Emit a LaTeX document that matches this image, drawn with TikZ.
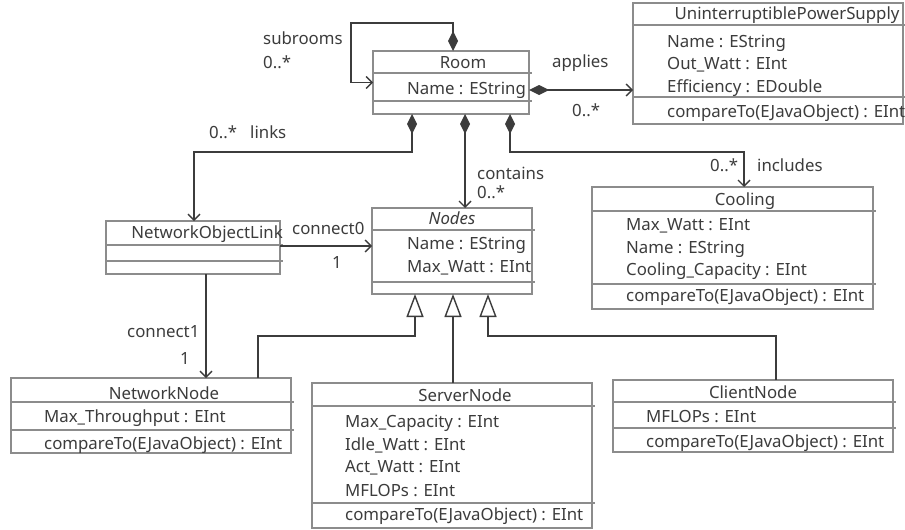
\documentclass[tikz,border=0pt]{standalone}
\usepackage{fontspec}
\setmainfont{Noto Sans}
\usetikzlibrary{arrows.meta}
\definecolor{ink}{HTML}{3C3C3C}
\definecolor{frame}{HTML}{8C8C8C}
\tikzset{
  cls/.style={draw=frame, line width=1.2pt, anchor=north west, inner sep=0pt, outer sep=0pt, fill=white},
  sep/.style={draw=frame, line width=1.2pt},
  txt/.style={text=ink, inner sep=0pt, anchor=west, font=\fontsize{16.8}{20}\selectfont},
  ttl/.style={txt, anchor=center},
  link/.style={draw=ink, line width=1.4pt},
  comp/.style={link, {Diamond[length=20pt,width=10pt]}-{Straight Barb[length=6pt,width=12pt]}},
  nav/.style={link, -{Straight Barb[length=6pt,width=12pt]}},
  gen/.style={link, -{Triangle[open,length=23pt,width=17pt,fill=white]}},
}
% \umlclass{name}{left}{top}{width}{height}{separator 1}{separator 2}
\newcommand\umlclass[7]{%
  \node[cls, minimum width=#4pt, minimum height=#5pt] (#1) at (#2pt,-#3pt) {};
  \draw[sep] (#2pt,-#6pt) -- ++(#4pt+3pt,0pt);
  \draw[sep] (#2pt,-#7pt) -- ++(#4pt+3pt,0pt);
}
\begin{document}
\begin{tikzpicture}
\useasboundingbox[fill=white] (0pt,0pt) rectangle (905pt,-530pt);

% class boxes
\umlclass{room}{373}{51}{156}{63}{73}{101}
\umlclass{ups}{633}{3}{270}{121}{25}{97}
\umlclass{nol}{106}{221}{174}{53}{245}{261}
\umlclass{nodes}{372}{208}{160}{86}{230}{282}
\umlclass{cool}{592}{187}{281}{122}{211}{284}
\umlclass{nn}{11}{378}{280}{75}{402}{430}
\umlclass{sn}{312}{383}{280}{145}{406}{503}
\umlclass{cn}{613}{380}{280}{72}{402}{428}

% Room
\node[ttl] (roomT) at (463pt,-63pt) {Room};
\node[txt] (roomA) at (407pt,-90pt) {Name : EString};

% UninterruptiblePowerSupply
\node[ttl] (upsT) at (787pt,-15pt) {UninterruptiblePowerSupply};
\node[txt] (upsA1) at (667pt,-43pt) {Name : EString};
\node[txt] (upsA2) at (667pt,-65pt) {Out\_Watt : EInt};
\node[txt] (upsA3) at (667pt,-88pt) {Efficiency : EDouble};
\node[txt] (upsM) at (667pt,-113pt) {compareTo(EJavaObject) : EInt};

% NetworkObjectLink
\node[ttl] (nolT) at (207pt,-234pt) {NetworkObjectLink};

% Nodes (abstract)
\node[ttl] (nodesT) at (452pt,-218pt) {\itshape Nodes};
\node[txt] (nodesA1) at (407pt,-245pt) {Name : EString};
\node[txt] (nodesA2) at (407pt,-268pt) {Max\_Watt : EInt};

% Cooling
\node[ttl] (coolT) at (745pt,-201pt) {Cooling};
\node[txt] (coolA1) at (626pt,-226pt) {Max\_Watt : EInt};
\node[txt] (coolA2) at (626pt,-249pt) {Name : EString};
\node[txt] (coolA3) at (626pt,-271pt) {Cooling\_Capacity : EInt};
\node[txt] (coolM) at (626pt,-297pt) {compareTo(EJavaObject) : EInt};

% NetworkNode
\node[ttl] (nnT) at (164pt,-393pt) {NetworkNode};
\node[txt] (nnA) at (44pt,-418pt) {Max\_Throughput : EInt};
\node[txt] (nnM) at (44pt,-445pt) {compareTo(EJavaObject) : EInt};

% ServerNode
\node[ttl] (snT) at (465pt,-395pt) {ServerNode};
\node[txt] (snA1) at (345pt,-423pt) {Max\_Capacity : EInt};
\node[txt] (snA2) at (345pt,-445pt) {Idle\_Watt : EInt};
\node[txt] (snA3) at (345pt,-468pt) {Act\_Watt : EInt};
\node[txt] (snA4) at (345pt,-491pt) {MFLOPs : EInt};
\node[txt] (snM) at (345pt,-516pt) {compareTo(EJavaObject) : EInt};

% ClientNode
\node[ttl] (cnT) at (753pt,-392pt) {ClientNode};
\node[txt] (cnA) at (646pt,-417pt) {MFLOPs : EInt};
\node[txt] (cnM) at (646pt,-443pt) {compareTo(EJavaObject) : EInt};

% association labels
\node[txt] (lSub) at (263pt,-38pt) {subrooms};
\node[txt] (lSubM) at (263pt,-62pt) {0..*};
\node[txt] (lApp) at (552pt,-63pt) {applies};
\node[txt] (lAppM) at (572pt,-110pt) {0..*};
\node[txt] (lLnkM) at (209pt,-132pt) {0..*};
\node[txt] (lLnk) at (250pt,-132pt) {links};
\node[txt] (lCon) at (477pt,-173pt) {contains};
\node[txt] (lConM) at (477pt,-192pt) {0..*};
\node[txt] (lIncM) at (710pt,-165pt) {0..*};
\node[txt] (lInc) at (757pt,-165pt) {includes};
\node[txt] (lC0) at (292pt,-228pt) {connect0};
\node[ttl] (lC0M) at (337pt,-262pt) {1};
\node[txt] (lC1) at (127pt,-332pt) {connect1};
\node[ttl] (lC1M) at (185pt,-358pt) {1};

% compositions owned by Room
\coordinate (loop) at (351pt,-23pt);
\draw[comp] ([xshift=80pt]room.north west) |- (loop) |- (room.west);
\draw[comp] ([yshift=-7.5pt]room.east) -- ([yshift=-7.5pt]room.east -| ups.west);
\draw[comp] ([xshift=39pt]room.south west) -- ++(0pt,-38pt) -| ([xshift=88pt]nol.north west);
\draw[comp] ([xshift=92pt]room.south west) -- ([xshift=92pt]room.south west |- nodes.north);
\draw[comp] ([xshift=137pt]room.south west) -- ++(0pt,-38pt) -| ([xshift=152pt]cool.north west);

% link references
\draw[nav] ([yshift=1.5pt]nol.east) -- ([yshift=1.5pt]nol.east -| nodes.west);
\draw[nav] ([xshift=100pt]nol.south west) -- ([xshift=100pt]nol.south west |- nn.north);

% generalizations
\draw[gen] ([xshift=247pt]nn.north west) -- ++(0pt,42pt) -| ([xshift=43pt]nodes.south west);
\draw[gen] ([xshift=141pt]sn.north west) -- ([xshift=141pt]sn.north west |- nodes.south);
\draw[gen] ([xshift=163pt]cn.north west) -- ++(0pt,44pt) -| ([xshift=116pt]nodes.south west);
\end{tikzpicture}
\end{document}
